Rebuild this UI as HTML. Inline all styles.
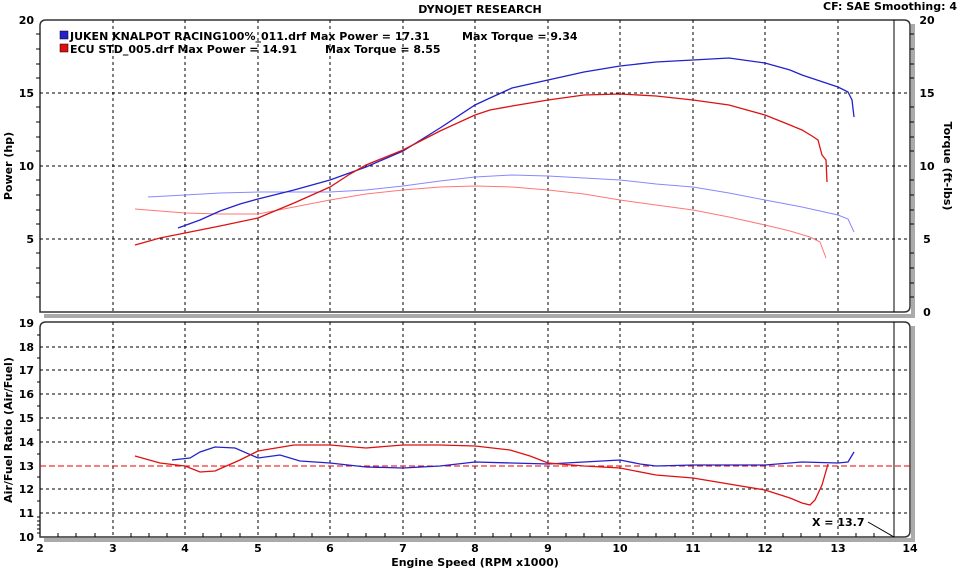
<!DOCTYPE html><html><head><style>body{margin:0;background:#fff}svg{display:block}text{font-family:"DejaVu Sans","Liberation Sans",sans-serif;font-weight:bold;fill:#000}</style></head><body>
<svg width="960" height="568" viewBox="0 0 960 568" xmlns="http://www.w3.org/2000/svg">
<g fill="none">
<path d="M913,24 V316 H44" stroke="#aaa" stroke-width="4"/>
<path d="M913,326 V540 H44" stroke="#aaa" stroke-width="4"/>
<path d="M40,312 V26 Q40,20 46,20 H904 Q910,20 910,26 V306 Q910,312 904,312 Z" stroke="#333" stroke-width="1.5"/>
<path d="M40,537 V328 Q40,322 46,322 H904 Q910,322 910,328 V531 Q910,537 904,537 Z" stroke="#333" stroke-width="1.5"/>
<g stroke="#000" stroke-dasharray="3,3" stroke-width="1">
<path d="M113,20V312M185,20V312M258,20V312M330,20V312M403,20V312M475,20V312M548,20V312M620,20V312M693,20V312M765,20V312M838,20V312"/>
<path d="M40,93H910M40,166H910M40,239H910"/>
<path d="M113,322V537M185,322V537M258,322V537M330,322V537M403,322V537M475,322V537M548,322V537M620,322V537M693,322V537M765,322V537M838,322V537"/>
<path d="M40,347H910M40,370H910M40,394H910M40,418H910M40,442H910M40,489H910M40,513H910"/>
</g>
<path d="M894,20V312M894,322V537" stroke="#000"/>
<path d="M40,466H910" stroke="#e00" stroke-dasharray="6,3"/>
<polyline stroke="#88f" points="148,197 185,195 220,193 258,192 294,192 330,192 366,190 403,186 440,181 475,177 512,175 548,176 584,178 620,180 656,184 693,187 729,193 765,200 802,207 838,215 848,219 854,232"/>
<polyline stroke="#f77" points="135,209 160,211 185,213 220,214 258,214 294,207 330,200 366,194 403,190 440,187 475,186 512,187 548,190 584,194 620,200 656,205 693,210 729,217 765,225 790,231 810,237 820,242 826,258"/>
<polyline stroke="#22c" stroke-width="1.3" points="178,228 200,220 220,211 240,204 258,199 294,190 330,180 366,167 403,151 440,128 475,105 490,98 512,88 548,80 584,72 620,66 656,62 693,60 729,58 765,63 790,70 802,75 820,81 838,87 848,92 852,100 854,117"/>
<polyline stroke="#d11" stroke-width="1.3" points="135,245 160,238 185,233 220,226 258,218 294,203 330,187 350,174 366,165 403,150 440,131 475,115 490,110 512,106 548,100 584,95 620,94 656,96 693,100 729,105 765,115 790,125 802,130 812,136 818,140 822,155 826,160 827,182"/>
<polyline stroke="#22c" stroke-width="1.3" points="172,460 190,458 200,452 215,447 235,448 258,458 280,455 300,461 330,463 366,467 403,468 440,466 475,462 512,463 548,464 584,462 620,460 640,464 656,466 693,465 729,465 765,465 802,462 838,463 848,462 854,452"/>
<polyline stroke="#d11" stroke-width="1.3" points="135,456 160,463 185,466 200,472 215,471 240,460 258,451 294,445 330,445 366,448 403,445 440,445 475,446 510,450 530,456 548,463 584,466 620,468 656,475 693,478 729,484 765,490 790,498 802,503 810,505 815,500 822,485 828,464"/>
<path d="M868,522 L894,537" stroke="#000"/>
</g>
<g stroke="#000">
<path d="M36,34h4M36,49h4M36,64h4M36,78h4M36,107h4M36,122h4M36,137h4M36,151h4M36,180h4M36,195h4M36,210h4M36,224h4M36,253h4M36,268h4M36,283h4M36,297h4"/>
<path d="M910,34h4M910,49h4M910,64h4M910,78h4M910,107h4M910,122h4M910,137h4M910,151h4M910,180h4M910,195h4M910,210h4M910,224h4M910,253h4M910,268h4M910,283h4M910,297h4"/>
<path d="M37,335h3M37,358h3M37,382h3M37,406h3M37,430h3M37,454h3M37,477h3M37,501h3M37,525h3M37,529h3M37,533h3M37,517h3M37,521h3"/>
<path d="M58,533v4M76,533v4M95,533v4M131,533v4M149,533v4M167,533v4M203,533v4M221,533v4M240,533v4M276,533v4M294,533v4M312,533v4M348,533v4M366,533v4M385,533v4M421,533v4M439,533v4M457,533v4M493,533v4M511,533v4M530,533v4M566,533v4M584,533v4M602,533v4M638,533v4M656,533v4M675,533v4M711,533v4M729,533v4M747,533v4M783,533v4M801,533v4M820,533v4M856,533v4M874,533v4"/>
</g>
<rect x="60" y="31" width="8" height="8" fill="#22c" stroke="#000" stroke-width=".5"/>
<rect x="60" y="44" width="8" height="8" fill="#d11" stroke="#000" stroke-width=".5"/>
<text x="70" y="40" font-size="11">JUKEN KNALPOT RACING100%_011.drf Max Power = 17.31</text>
<text x="462" y="40" font-size="11">Max Torque = 9.34</text>
<text x="70" y="53" font-size="11">ECU STD_005.drf Max Power = 14.91</text>
<text x="325" y="53" font-size="11">Max Torque = 8.55</text>
<text x="480" y="13" font-size="11" text-anchor="middle">DYNOJET RESEARCH</text>
<text x="957" y="10" font-size="11" text-anchor="end">CF: SAE  Smoothing: 4</text>
<g font-size="11" text-anchor="end">
<text x="34" y="24">20</text><text x="34" y="97">15</text><text x="34" y="170">10</text><text x="34" y="243">5</text>
<text x="34" y="327">19</text><text x="34" y="351">18</text><text x="34" y="374">17</text><text x="34" y="398">16</text><text x="34" y="422">15</text><text x="34" y="446">14</text><text x="34" y="470">13</text><text x="34" y="493">12</text><text x="34" y="517">11</text><text x="34" y="541">10</text>
</g>
<g font-size="11" text-anchor="middle">
<text x="927" y="24">20</text><text x="927" y="97">15</text><text x="927" y="170">10</text><text x="927" y="243">5</text><text x="927" y="316">0</text>
<text x="40" y="552">2</text><text x="113" y="552">3</text><text x="185" y="552">4</text><text x="258" y="552">5</text><text x="330" y="552">6</text><text x="403" y="552">7</text><text x="475" y="552">8</text><text x="548" y="552">9</text><text x="620" y="552">10</text><text x="693" y="552">11</text><text x="765" y="552">12</text><text x="838" y="552">13</text><text x="910" y="552">14</text>
<text x="475" y="566">Engine Speed (RPM x1000)</text>
<text transform="translate(12,166) rotate(-90)">Power (hp)</text>
<text transform="translate(944,166) rotate(90)">Torque (ft-lbs)</text>
<text transform="translate(12,430) rotate(-90)">Air/Fuel Ratio (Air/Fuel)</text>
</g>
<text x="812" y="526" font-size="11">X = 13.7</text>
</svg></body></html>
